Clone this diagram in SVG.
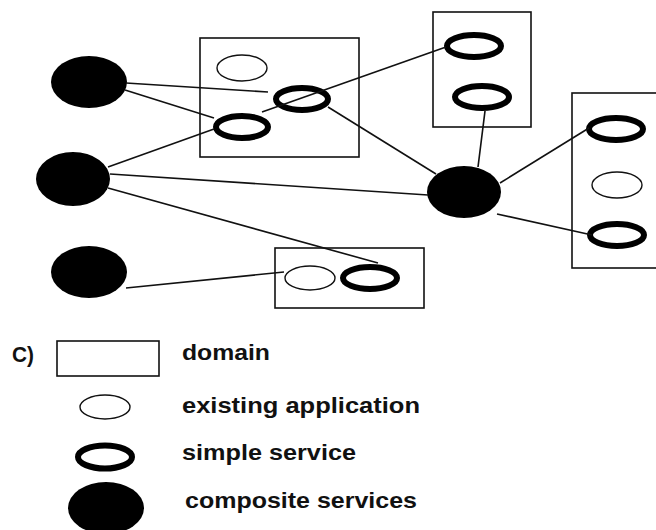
<svg xmlns="http://www.w3.org/2000/svg" width="656" height="530" viewBox="0 0 656 530">
  <style>
    .domain { fill: none; stroke: #111; stroke-width: 1.6; }
    .existing { fill: #fff; stroke: #111; stroke-width: 1.4; }
    .simple { fill: #fff; stroke: #000; stroke-width: 6; }
    .composite { fill: #000; stroke: none; }
    .link { stroke: #111; stroke-width: 1.6; fill: none; }
    .label { font-family: "Liberation Sans", Arial, sans-serif; font-weight: bold; font-size: 22px; fill: #111; }
  </style>
  <rect width="656" height="530" fill="#fff"/>

  <!-- domains -->
  <g id="domain-1"><rect class="domain" x="200" y="38" width="159" height="119"/></g>
  <g id="domain-2"><rect class="domain" x="433" y="12" width="98" height="115"/></g>
  <g id="domain-3"><rect class="domain" x="572" y="93" width="90" height="175"/></g>
  <g id="domain-4"><rect class="domain" x="275" y="248" width="149" height="60"/></g>

  <!-- existing applications -->
  <g id="app-1"><ellipse class="existing" cx="242" cy="68" rx="25" ry="13"/></g>
  <g id="app-2"><ellipse class="existing" cx="617" cy="185" rx="25" ry="13"/></g>
  <g id="app-3"><ellipse class="existing" cx="310" cy="278" rx="25" ry="12"/></g>

  <!-- simple services -->
  <g id="svc-a"><ellipse class="simple" cx="302" cy="99" rx="26" ry="11"/></g>
  <g id="svc-b"><ellipse class="simple" cx="242" cy="127" rx="26" ry="11"/></g>
  <g id="svc-c"><ellipse class="simple" cx="474" cy="46" rx="27" ry="11"/></g>
  <g id="svc-d"><ellipse class="simple" cx="482" cy="97" rx="27" ry="11"/></g>
  <g id="svc-e"><ellipse class="simple" cx="616" cy="129" rx="27" ry="11"/></g>
  <g id="svc-f"><ellipse class="simple" cx="617" cy="235" rx="27" ry="11"/></g>
  <g id="svc-g"><ellipse class="simple" cx="370" cy="278" rx="27" ry="11"/></g>

  <!-- composite services -->
  <g id="comp-1"><ellipse class="composite" cx="89" cy="82" rx="38" ry="26"/></g>
  <g id="comp-2"><ellipse class="composite" cx="73" cy="179" rx="37" ry="27"/></g>
  <g id="comp-3"><ellipse class="composite" cx="89" cy="272" rx="38" ry="26"/></g>
  <g id="comp-4"><ellipse class="composite" cx="464" cy="192" rx="37" ry="26"/></g>

  <!-- connectors -->
  <g id="connectors">
    <line class="link" x1="126" y1="83" x2="268" y2="92"/>
    <line class="link" x1="125" y1="90" x2="214" y2="118"/>
    <line class="link" x1="108" y1="167" x2="214" y2="129"/>
    <line class="link" x1="262" y1="112" x2="446" y2="47"/>
    <line class="link" x1="328" y1="107" x2="436" y2="174"/>
    <line class="link" x1="485" y1="111" x2="478" y2="167"/>
    <line class="link" x1="110" y1="174" x2="428" y2="195"/>
    <line class="link" x1="108" y1="188" x2="378" y2="263"/>
    <line class="link" x1="126" y1="288" x2="284" y2="272"/>
    <line class="link" x1="500" y1="183" x2="589" y2="128"/>
    <line class="link" x1="497" y1="214" x2="592" y2="235"/>
  </g>

  <!-- legend -->
  <g id="legend">
    <text class="label" x="12" y="362" font-size="17" textLength="22" lengthAdjust="spacingAndGlyphs">C)</text>
    <rect class="domain" x="57" y="341" width="102" height="35"/>
    <text class="label" x="182" y="360" textLength="88" lengthAdjust="spacingAndGlyphs">domain</text>
    <ellipse class="existing" cx="105" cy="407" rx="25" ry="12"/>
    <text class="label" x="182" y="413" textLength="238" lengthAdjust="spacingAndGlyphs">existing application</text>
    <ellipse class="simple" cx="105" cy="457" rx="27" ry="11.5"/>
    <text class="label" x="182" y="460" textLength="174" lengthAdjust="spacingAndGlyphs">simple service</text>
    <ellipse class="composite" cx="106" cy="508" rx="38" ry="26"/>
    <text class="label" x="185" y="508" textLength="232" lengthAdjust="spacingAndGlyphs">composite services</text>
  </g>
</svg>
